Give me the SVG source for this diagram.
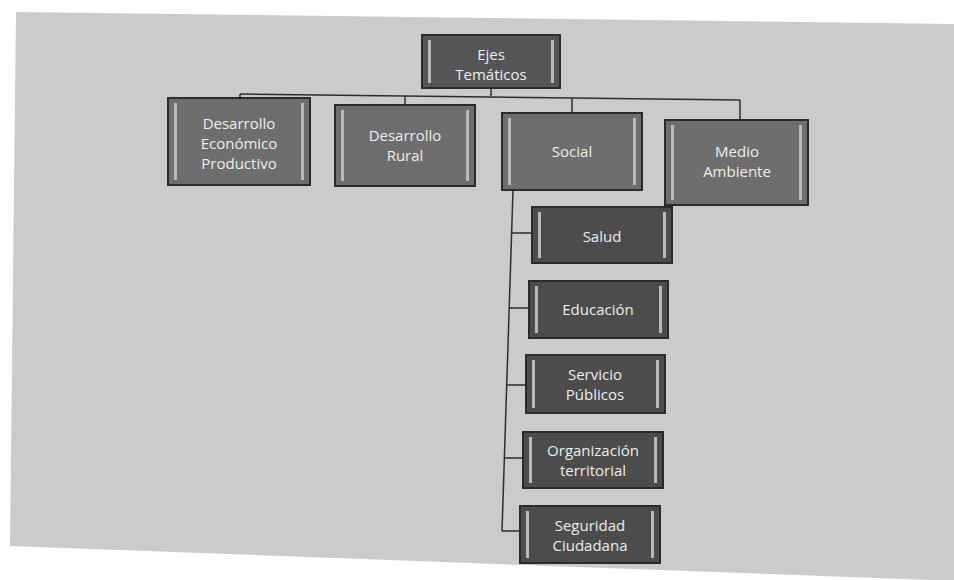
<svg xmlns="http://www.w3.org/2000/svg" width="954" height="580" viewBox="0 0 954 580">
<style>
.box{stroke:#2b2b2b;stroke-width:2}
.l0{fill:#555}
.l1{fill:#6e6e6e}
.l2{fill:#4c4c4c}
.stripe{fill:#b9b9b9}
.t{font-family:"Open Sans","Liberation Sans",sans-serif;font-size:15px;fill:#ededed;text-anchor:middle}
.c{fill:none;stroke:#2e2e2e;stroke-width:1.5}
</style>
<rect width="954" height="580" fill="#ffffff"/>
<polygon points="16,12 954,24 954,580 930,580 10,546" fill="#cbcbcb"/>

<g id="connectors">
<path class="c" d="M491,88 V96"/>
<path class="c" d="M240,94 L740,100"/>
<path class="c" d="M240,94 V98"/>
<path class="c" d="M405,96 V105"/>
<path class="c" d="M572,98 V113"/>
<path class="c" d="M740,100 V120"/>
<path class="c" d="M513,190 L502,531"/>
<path class="c" d="M512,233 H532"/>
<path class="c" d="M510,308 H529"/>
<path class="c" d="M507,385 H526"/>
<path class="c" d="M505,458 H523"/>
<path class="c" d="M502,531 H520"/>
</g>

<g id="ejes">
<rect class="box l0" x="422" y="35" width="138" height="53"/>
<rect class="stripe" x="428" y="40" width="3" height="43"/>
<rect class="stripe" x="551" y="40" width="3" height="43"/>
<text class="t" x="491" y="60">Ejes</text>
<text class="t" x="491" y="80">Temáticos</text>
</g>

<g id="desarrollo-economico">
<rect class="box l1" x="168" y="98" width="142" height="87"/>
<rect class="stripe" x="174" y="103" width="3" height="77"/>
<rect class="stripe" x="301" y="103" width="3" height="77"/>
<text class="t" x="239" y="129">Desarrollo</text>
<text class="t" x="239" y="149">Económico</text>
<text class="t" x="239" y="169">Productivo</text>
</g>

<g id="desarrollo-rural">
<rect class="box l1" x="335" y="105" width="140" height="81"/>
<rect class="stripe" x="341" y="110" width="3" height="71"/>
<rect class="stripe" x="466" y="110" width="3" height="71"/>
<text class="t" x="405" y="141">Desarrollo</text>
<text class="t" x="405" y="161">Rural</text>
</g>

<g id="social">
<rect class="box l1" x="502" y="113" width="140" height="77"/>
<rect class="stripe" x="508" y="118" width="3" height="67"/>
<rect class="stripe" x="633" y="118" width="3" height="67"/>
<text class="t" x="572" y="157">Social</text>
</g>

<g id="medio-ambiente">
<rect class="box l1" x="665" y="120" width="143" height="85"/>
<rect class="stripe" x="671" y="125" width="3" height="75"/>
<rect class="stripe" x="799" y="125" width="3" height="75"/>
<text class="t" x="737" y="157">Medio</text>
<text class="t" x="737" y="177">Ambiente</text>
</g>

<g id="salud">
<rect class="box l2" x="532" y="207" width="140" height="56"/>
<rect class="stripe" x="538" y="212" width="3" height="46"/>
<rect class="stripe" x="663" y="212" width="3" height="46"/>
<text class="t" x="602" y="242">Salud</text>
</g>

<g id="educacion">
<rect class="box l2" x="529" y="281" width="139" height="57"/>
<rect class="stripe" x="535" y="286" width="3" height="47"/>
<rect class="stripe" x="659" y="286" width="3" height="47"/>
<text class="t" x="598" y="315">Educación</text>
</g>

<g id="servicio-publicos">
<rect class="box l2" x="526" y="355" width="139" height="58"/>
<rect class="stripe" x="532" y="360" width="3" height="48"/>
<rect class="stripe" x="656" y="360" width="3" height="48"/>
<text class="t" x="595" y="380">Servicio</text>
<text class="t" x="595" y="400">Públicos</text>
</g>

<g id="organizacion-territorial">
<rect class="box l2" x="523" y="432" width="140" height="56"/>
<rect class="stripe" x="529" y="437" width="3" height="46"/>
<rect class="stripe" x="654" y="437" width="3" height="46"/>
<text class="t" x="593" y="456">Organización</text>
<text class="t" x="593" y="476">territorial</text>
</g>

<g id="seguridad-ciudadana">
<rect class="box l2" x="520" y="506" width="140" height="57"/>
<rect class="stripe" x="526" y="511" width="3" height="47"/>
<rect class="stripe" x="651" y="511" width="3" height="47"/>
<text class="t" x="590" y="531">Seguridad</text>
<text class="t" x="590" y="551">Ciudadana</text>
</g>
</svg>
